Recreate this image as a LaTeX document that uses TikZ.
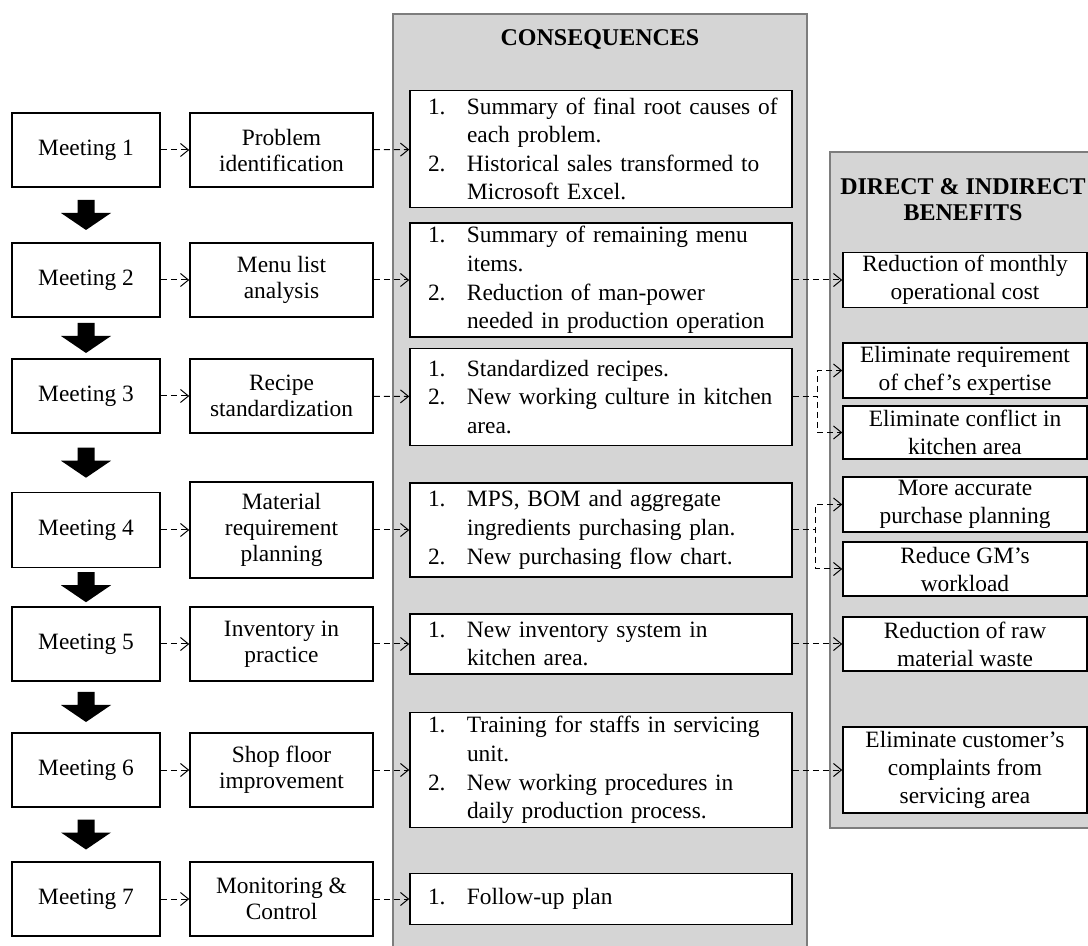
\documentclass[tikz,border=0pt]{standalone}
\usepackage{fontspec}
\setmainfont{Liberation Serif}
\usetikzlibrary{arrows.meta,calc}
\definecolor{panelgray}{RGB}{213,213,213}
\definecolor{panelline}{RGB}{125,125,125}
% numbered lines inside the outcome boxes, each kept on one line
\newcommand{\itemfirst}[2]{\makebox[19.5pt][l]{#1}\mbox{#2}}
\newcommand{\itemmore}[1]{\hspace*{19.5pt}\mbox{#1}}

\begin{document}
\begin{tikzpicture}[x=0.5pt, y=-0.5pt, line join=miter,
    font=\fontsize{11.7}{13}\selectfont,
    meet/.style={draw, fill=white, line width=0.75pt, minimum width=74pt, minimum height=37pt, inner sep=0pt},
    task/.style={draw, fill=white, line width=0.75pt, minimum width=91.5pt, minimum height=37pt, inner sep=0pt, align=center},
    outcome/.style={draw, fill=white, line width=0.75pt, text width=173pt, inner xsep=9pt, inner ysep=0pt, align=left,
      font=\fontsize{11.7}{14.3}\selectfont},
    gain/.style={draw, fill=white, line width=0.75pt, minimum width=122pt, inner sep=0pt, align=center,
      font=\fontsize{11.7}{14}\selectfont},
    head/.style={font=\fontsize{12}{13}\selectfont\bfseries, align=center},
    panel/.style={fill=panelgray, draw=panelline, line width=0.6pt},
    link/.style={densely dashed, line width=0.5pt, -{Straight Barb[length=4pt,width=6.5pt]}},
    bigarrow/.pic={\fill (-8.5,-15) -- (8.5,-15) -- (8.5,-2) -- (25,-2) -- (0,15) -- (-25,-2) -- (-8.5,-2) -- cycle;}]
  \clip (0,0) rectangle (1088,946);
  % grey columns
  \draw[panel] (393,14) rectangle (807,960);
  \draw[panel] (830,152) rectangle (1100,828);
  \node[head] (conhead) at (600,40) {CONSEQUENCES};
  \node[head] (benhead) at (963,200) {DIRECT \& INDIRECT\\BENEFITS};
  % meetings
  \node[meet] (m1) at (86,150) {Meeting 1};
  \node[meet] (m2) at (86,280) {Meeting 2};
  \node[meet] (m3) at (86,396) {Meeting 3};
  \node[meet, minimum height=37.5pt] (m4) at (86,530) {Meeting 4};
  \node[meet] (m5) at (86,644) {Meeting 5};
  \node[meet] (m6) at (86,770) {Meeting 6};
  \node[meet] (m7) at (86,899) {Meeting 7};
  \pic at ($(m1.south)!0.5!(m2.north)$) {bigarrow};
  \pic at ($(m2.south)!0.5!(m3.north)$) {bigarrow};
  \pic at ($(m3.south)!0.5!(m4.north)$) {bigarrow};
  \pic at ($(m4.south)!0.5!(m5.north)$) {bigarrow};
  \pic at ($(m5.south)!0.5!(m6.north)$) {bigarrow};
  \pic at ($(m6.south)!0.5!(m7.north)$) {bigarrow};
  % what each meeting works on
  \node[task] (t1) at (281.5,150) {Problem\\identification};
  \node[task] (t2) at (281.5,280) {Menu list\\analysis};
  \node[task] (t3) at (281.5,396) {Recipe\\standardization};
  \node[task, minimum height=48pt] (t4) at (281.5,530) {Material\\requirement\\planning};
  \node[task] (t5) at (281.5,644) {Inventory in\\practice};
  \node[task] (t6) at (281.5,770) {Shop floor\\improvement};
  \node[task] (t7) at (281.5,899) {Monitoring \&\\Control};
  % outcomes
  \node[outcome, minimum height=58.5pt] (c1) at (601,149) {\itemfirst{1.}{Summary of final root causes of}\\
    \itemmore{each problem.}\\\itemfirst{2.}{Historical sales transformed to}\\\itemmore{Microsoft Excel.}};
  \node[outcome, minimum height=57pt] (c2) at (601,280) {\itemfirst{1.}{Summary of remaining menu}\\
    \itemmore{items.}\\\itemfirst{2.}{Reduction of man-power}\\\itemmore{needed in production operation}};
  \node[outcome, minimum height=48.5pt] (c3) at (601,397) {\itemfirst{1.}{Standardized recipes.}\\
    \itemfirst{2.}{New working culture in kitchen}\\\itemmore{area.}};
  \node[outcome, minimum height=47pt] (c4) at (601,530) {\itemfirst{1.}{MPS, BOM and aggregate}\\
    \itemmore{ingredients purchasing plan.}\\\itemfirst{2.}{New purchasing flow chart.}};
  \node[outcome, minimum height=30pt] (c5) at (601,644) {\itemfirst{1.}{New inventory system in}\\
    \itemmore{kitchen area.}};
  \node[outcome, minimum height=57.5pt] (c6) at (601,770) {\itemfirst{1.}{Training for staffs in servicing}\\
    \itemmore{unit.}\\\itemfirst{2.}{New working procedures in}\\\itemmore{daily production process.}};
  \node[outcome, minimum height=25.5pt] (c7) at (601,899) {\itemfirst{1.}{Follow-up plan}};
  % benefits
  \node[gain, minimum height=27.5pt] (b1) at (965,280) {Reduction of monthly\\operational cost};
  \node[gain, minimum height=27.5pt] (b2) at (965,370.5) {Eliminate requirement\\of chef's expertise};
  \node[gain, minimum height=26.5pt] (b3) at (965,432.5) {Eliminate conflict in\\kitchen area};
  \node[gain, minimum height=27.5pt] (b4) at (965,504.5) {More accurate\\purchase planning};
  \node[gain, minimum height=27pt] (b5) at (965,569) {Reduce GM's\\workload};
  \node[gain, minimum height=27pt] (b6) at (965,644) {Reduction of raw\\material waste};
  \node[gain, minimum height=43pt] (b7) at (965,770) {Eliminate customer's\\complaints from\\servicing area};
  % dashed links
  \draw[link] (m1) -- (t1);
  \draw[link] (m2) -- (t2);
  \draw[link] (m3) -- (t3);
  \draw[link] (m4) -- (t4);
  \draw[link] (m5) -- (t5);
  \draw[link] (m6) -- (t6);
  \draw[link] (m7) -- (t7);
  \draw[link] (t1) -- (c1);
  \draw[link] (t2) -- (c2);
  \draw[link] (t3) -- (c3);
  \draw[link] (t4) -- (c4);
  \draw[link] (t5) -- (c5);
  \draw[link] (t6) -- (c6);
  \draw[link] (t7) -- (c7);
  \draw[link] (c2) -- (b1);
  \draw[link] (c3.east) -- ++(12.5pt,0) |- (b2);
  \draw[link] (c3.east) -- ++(12.5pt,0) |- (b3);
  \draw[link] (c4.east) -- ++(11.5pt,0) |- (b4);
  \draw[link] (c4.east) -- ++(11.5pt,0) |- (b5);
  \draw[link] (c5) -- (b6);
  \draw[link] (c6) -- (b7);
\end{tikzpicture}
\end{document}
